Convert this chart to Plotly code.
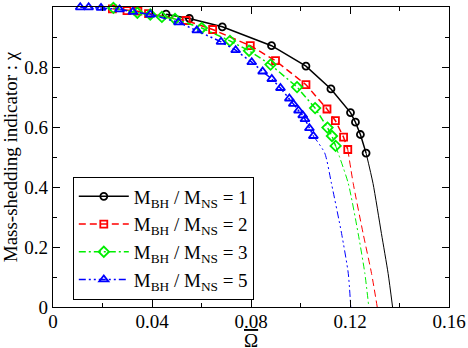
import plotly.graph_objects as go

# ---- data ----
labels = ["M<sub>BH</sub> / M<sub>NS</sub> = 1",
          "M<sub>BH</sub> / M<sub>NS</sub> = 2",
          "M<sub>BH</sub> / M<sub>NS</sub> = 3",
          "M<sub>BH</sub> / M<sub>NS</sub> = 5"]

q1_x = [0.0457, 0.0551, 0.0684, 0.0883, 0.1022, 0.1123, 0.1202, 0.1222, 0.1242, 0.1265]
q1_y = [0.976, 0.962, 0.934, 0.871, 0.803, 0.727, 0.648, 0.616, 0.575, 0.513]
q1_tail_x = [0.1265, 0.1293, 0.1327, 0.1354, 0.1372]
q1_tail_y = [0.513, 0.412, 0.245, 0.112, 0.0]

q2_x = [0.0240, 0.0299, 0.0343, 0.0386, 0.0538, 0.0645, 0.0797, 0.0899, 0.1022, 0.1107, 0.1141, 0.1174, 0.1191]
q2_y = [0.994, 0.988, 0.986, 0.978, 0.955, 0.925, 0.871, 0.821, 0.741, 0.660, 0.621, 0.566, 0.525]
q2_tail_x = [0.1191, 0.1213, 0.1253, 0.1287, 0.1310]
q2_tail_y = [0.525, 0.412, 0.245, 0.112, 0.0]

q3_x = [0.0244, 0.0341, 0.0393, 0.0440, 0.0493, 0.0601, 0.0715, 0.0792, 0.0879, 0.0986, 0.1059, 0.1109, 0.1127, 0.1142]
q3_y = [0.997, 0.981, 0.975, 0.967, 0.960, 0.930, 0.887, 0.854, 0.808, 0.733, 0.663, 0.598, 0.570, 0.537]
q3_tail_x = [0.1142, 0.1193, 0.1233, 0.1260, 0.1276]
q3_tail_y = [0.537, 0.412, 0.245, 0.112, 0.0]

q5_x = [0.0110, 0.0144, 0.0194, 0.0269, 0.0323, 0.0393, 0.0507, 0.0581, 0.0679, 0.0738, 0.0803,
        0.0847, 0.0884, 0.0919, 0.0955, 0.0971, 0.0992, 0.1009, 0.1018, 0.1036, 0.1052]
q5_y = [0.999, 0.999, 0.997, 0.992, 0.984, 0.975, 0.949, 0.922, 0.884, 0.856, 0.816,
        0.785, 0.760, 0.730, 0.695, 0.677, 0.655, 0.639, 0.626, 0.596, 0.570]
q5_tail_x = [0.1052, 0.1098, 0.1125, 0.1166, 0.1193, 0.1203]
q5_tail_y = [0.570, 0.513, 0.412, 0.245, 0.112, 0.0]

x_ticks = [0, 0.04, 0.08, 0.12, 0.16]
x_tick_text = ["0", "0.04", "0.08", "0.12", "0.16"]
y_ticks = [0, 0.2, 0.4, 0.6, 0.8, 1.0]
y_tick_text = ["0", "0.2", "0.4", "0.6", "0.8", "1"]
x_title = '<span style="text-decoration:overline">Ω</span>'
y_title = "Mass-shedding indicator : χ"

# ---- styles ----
series = [
    (q1_x, q1_y, q1_tail_x, q1_tail_y, "#000000", "solid", "circle-open", 7),
    (q2_x, q2_y, q2_tail_x, q2_tail_y, "#ff0000", "7px,4px", "square-open", 7),
    (q3_x, q3_y, q3_tail_x, q3_tail_y, "#00ee00", "7px,3px,2px,3px", "diamond-open", 8),
    (q5_x, q5_y, q5_tail_x, q5_tail_y, "#0000ff", "7px,3px,2px,3px,2px,3px", "triangle-up-open", 8),
]

FONT = "Liberation Serif"
fig = go.Figure()
for (x, y, tx, ty, col, dash, sym, sz), lab in zip(series, labels):
    fig.add_trace(go.Scatter(x=tx, y=ty, mode="lines", showlegend=False,
                             line=dict(color=col, width=1, dash=dash, shape="spline", smoothing=0.6),
                             hoverinfo="skip"))
    fig.add_trace(go.Scatter(x=x, y=y, mode="lines+markers", name=lab, cliponaxis=False,
                             line=dict(color=col, width=1.5, dash=dash),
                             marker=dict(symbol=sym, size=sz, color=col,
                                         line=dict(color=col, width=1.8))))

axis_common = dict(showline=True, linecolor="black", linewidth=1.3, mirror="allticks",
                   ticks="inside", ticklen=7, tickwidth=1.2, tickcolor="black",
                   showgrid=False, zeroline=False, automargin=False,
                   tickfont=dict(family=FONT, size=19, color="black"))

fig.update_xaxes(range=[0, 0.16], tickvals=x_ticks, ticktext=x_tick_text,
                 minor=dict(ticks="inside", ticklen=4, tickwidth=1.2, tickcolor="black",
                            dtick=0.02, tick0=0, showgrid=False),
                 ticklabelstandoff=-3,
                 **axis_common)
fig.update_yaxes(range=[0, 1], tickvals=y_ticks, ticktext=y_tick_text,
                 minor=dict(ticks="inside", ticklen=4, tickwidth=1.2, tickcolor="black",
                            dtick=0.1, tick0=0, showgrid=False),
                 title=dict(text=y_title,
                            font=dict(family=FONT, size=19, color="black"), standoff=4),
                 **axis_common)

fig.add_annotation(text=x_title, xref="paper", yref="paper", x=0.5, y=0,
                   xanchor="center", yanchor="top", yshift=-21, showarrow=False,
                   font=dict(family=FONT, size=19, color="black"))

fig.update_layout(
    width=468, height=348, autosize=False,
    margin=dict(l=53, r=19, t=7, b=41),
    paper_bgcolor="white", plot_bgcolor="white",
    font=dict(family=FONT, size=19, color="black"),
    legend=dict(x=0.05, y=0.435, xanchor="left", yanchor="top",
                bgcolor="white", bordercolor="black", borderwidth=1,
                font=dict(family=FONT, size=19, color="black"),
                itemwidth=50, tracegroupgap=0),
    showlegend=True,
)

fig.write_html("out.html", config={"displayModeBar": False},
               post_script="document.body.style.margin='0';document.body.style.overflow='hidden';")
